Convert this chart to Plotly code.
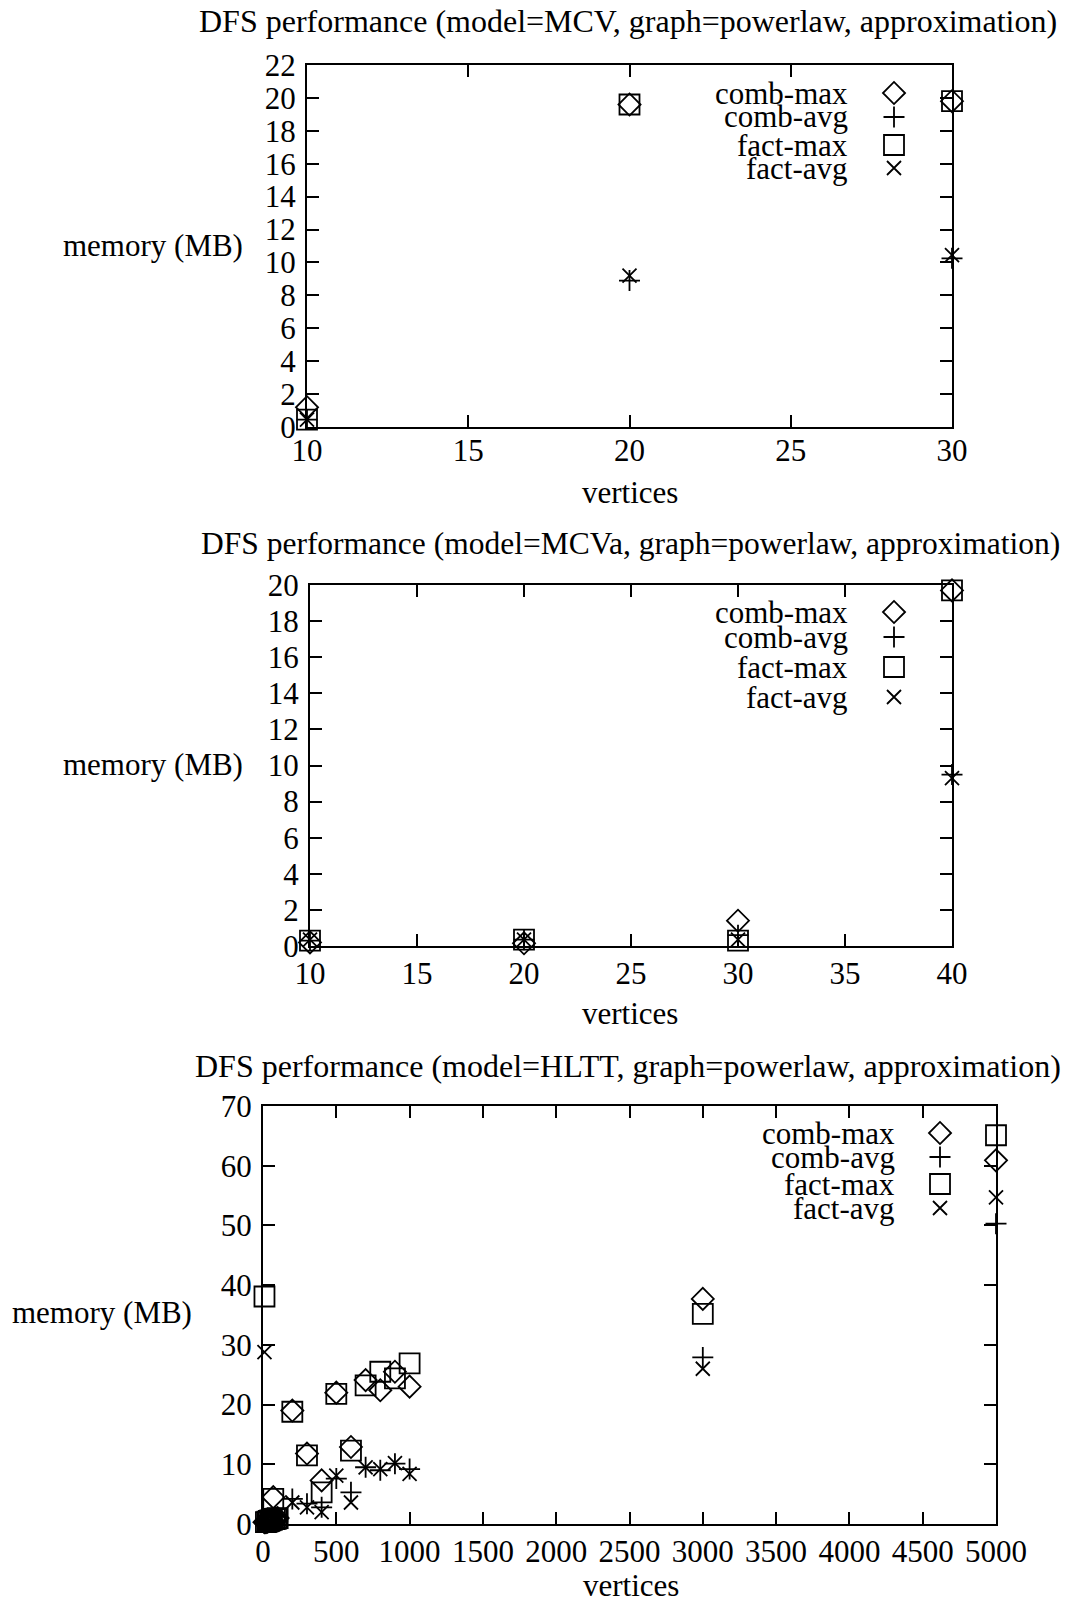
import plotly.graph_objects as go

W, H = 1065, 1602
FONT = "Liberation Serif"
FS = 31

# ---------------- data ----------------
series_names = ["comb-max", "comb-avg", "fact-max", "fact-avg"]

titles = [
    "DFS performance (model=MCV, graph=powerlaw, approximation)",
    "DFS performance (model=MCVa, graph=powerlaw, approximation)",
    "DFS performance (model=HLTT, graph=powerlaw, approximation)",
]

# Panel 1: MCV
mcv_vertices = [10, 20, 30]
mcv_comb_max = [1.2, 19.6, 19.8]
mcv_comb_avg = [0.45, 8.9, 10.25]
mcv_fact_max = [0.45, 19.6, 19.8]
mcv_fact_avg = [0.45, 9.2, 10.45]

# Panel 2: MCVa
mcva_vertices = [10, 20, 30, 40]
mcva_comb_max = [0.2, 0.15, 1.4, 19.7]
mcva_comb_avg = [0.3, 0.35, 0.6, 9.5]
mcva_fact_max = [0.3, 0.35, 0.3, 19.7]
mcva_fact_avg = [0.35, 0.35, 0.35, 9.3]

# Panel 3: HLTT
hltt_vertices = [10, 20, 30, 40, 50, 60, 70, 80, 90, 100,
                 200, 300, 400, 500, 600, 700, 800, 900, 1000, 3000, 5000]
hltt_comb_max = [0.3, 0.3, 0.4, 0.5, 0.6, 0.7, 4.5, 0.8, 0.9, 1.0,
                 19.0, 11.8, 7.3, 22.0, 12.9, 24.1, 22.4, 25.5, 23.0, 37.7, 60.9]
hltt_comb_avg = [0.1, 0.15, 0.2, 0.25, 0.3, 0.35, 0.5, 0.4, 0.45, 0.5,
                 4.2, 3.4, 2.8, 7.6, 5.3, 9.5, 9.0, 10.1, 9.2, 27.9, 50.3]
hltt_fact_max = [38.1, 0.3, 0.4, 0.5, 0.6, 0.7, 4.2, 0.8, 0.9, 1.0,
                 18.8, 11.5, 5.3, 21.8, 12.3, 23.2, 25.5, 24.4, 26.9, 35.2, 65.1]
hltt_fact_avg = [28.8, 0.1, 0.15, 0.2, 0.25, 0.3, 0.5, 0.35, 0.4, 0.45,
                 3.6, 2.8, 2.0, 8.1, 3.6, 9.5, 9.2, 10.2, 8.4, 26.0, 54.7]

# tick values
mcv_xticks = [10, 15, 20, 25, 30]
mcv_yticks = list(range(0, 23, 2))
mcva_xticks = [10, 15, 20, 25, 30, 35, 40]
mcva_yticks = list(range(0, 21, 2))
hltt_xticks = list(range(0, 5001, 500))
hltt_yticks = list(range(0, 71, 10))

# ---------------- styles ----------------
SYMBOLS = {
    "comb-max": dict(symbol="diamond-open", size=17),
    "comb-avg": dict(symbol="cross-thin", size=15),
    "fact-max": dict(symbol="square-open", size=20),
    "fact-avg": dict(symbol="x-thin", size=14),
}

def marker(name, lw=1.8):
    s = SYMBOLS[name]
    return dict(symbol=s["symbol"], size=s["size"], color="black",
                line=dict(color="black", width=lw))

fig = go.Figure()

panels = [
    (mcv_vertices, [mcv_comb_max, mcv_comb_avg, mcv_fact_max, mcv_fact_avg], "x", "y"),
    (mcva_vertices, [mcva_comb_max, mcva_comb_avg, mcva_fact_max, mcva_fact_avg], "x2", "y2"),
    (hltt_vertices, [hltt_comb_max, hltt_comb_avg, hltt_fact_max, hltt_fact_avg], "x3", "y3"),
]
for xs, ys_list, xa, ya in panels:
    for name, ys in zip(series_names, ys_list):
        fig.add_trace(go.Scatter(x=xs, y=ys, mode="markers", name=name,
                                 marker=marker(name), xaxis=xa, yaxis=ya,
                                 cliponaxis=False, showlegend=False))

# ---------------- legends (gnuplot style: text left, symbol right) ----------------
legend_layout = [
    # (text right edge px, symbol x px, row y px list)
    (850, 894, [93, 117, 145, 168]),
    (850, 894, [612, 637, 667, 697]),
    (897, 940, [1133, 1157, 1184, 1208]),
]
for tx, sx, rows in legend_layout:
    for name, ry in zip(series_names, rows):
        fig.add_trace(go.Scatter(x=[sx], y=[ry], mode="markers",
                                 marker=marker(name), xaxis="x4", yaxis="y4",
                                 cliponaxis=False, showlegend=False, hoverinfo="skip"))
        fig.add_annotation(x=tx / W, y=1 - ry / H, xref="paper", yref="paper",
                           text=name, showarrow=False, xanchor="right", yanchor="middle",
                           font=dict(family=FONT, size=FS, color="black"))

# ---------------- axes ----------------
def ax(domain, rng, ticks, standoff):
    return dict(domain=domain, range=rng, tickmode="array", tickvals=ticks,
                ticktext=[str(t) for t in ticks],
                showline=True, linecolor="black", linewidth=2, mirror="ticks",
                ticks="inside", ticklen=12, tickwidth=1.5, tickcolor="black",
                showgrid=False, zeroline=False, automargin=False,
                ticklabelstandoff=standoff,
                tickfont=dict(family=FONT, size=FS, color="black"))

def px_x(a, b):
    return [a / W, b / W]

def px_y(top, bottom):
    return [1 - bottom / H, 1 - top / H]

fig.update_layout(
    xaxis=dict(ax(px_x(307, 952), [10, 30], mcv_xticks, -5), anchor="y"),
    yaxis=dict(ax(px_y(65, 427), [0, 22], mcv_yticks, 3), anchor="x"),
    xaxis2=dict(ax(px_x(310, 952), [10, 40], mcva_xticks, -1), anchor="y2"),
    yaxis2=dict(ax(px_y(585, 946), [0, 20], mcva_yticks, 3), anchor="x2"),
    xaxis3=dict(ax(px_x(263, 996), [0, 5000], hltt_xticks, -1), anchor="y3"),
    yaxis3=dict(ax(px_y(1106, 1524), [0, 70], hltt_yticks, 3), anchor="x3"),
    xaxis4=dict(domain=[0, 1], range=[0, W], visible=False, fixedrange=True, anchor="y4"),
    yaxis4=dict(domain=[0, 1], range=[H, 0], visible=False, fixedrange=True, anchor="x4"),
)

# ---------------- titles and axis labels ----------------
def label(text, xpx, ypx, size=FS):
    fig.add_annotation(x=xpx / W, y=1 - ypx / H, xref="paper", yref="paper",
                       text=text, showarrow=False, xanchor="center", yanchor="middle",
                       font=dict(family=FONT, size=size, color="black"))

label(titles[0], 628, 21, 32)
label(titles[1], 630, 544, 31.5)
label(titles[2], 628, 1066, 32)
label("memory (MB)", 153, 245)
label("memory (MB)", 153, 764)
label("memory (MB)", 102, 1312)
label("vertices", 630, 493)
label("vertices", 630, 1013)
label("vertices", 631, 1585)

fig.update_layout(width=W, height=H, margin=dict(l=0, r=0, t=0, b=0, pad=0),
                  autosize=False,
                  paper_bgcolor="white", plot_bgcolor="rgba(0,0,0,0)",
                  font=dict(family=FONT, size=FS, color="black"),
                  showlegend=False)

fig.write_html("out.html")
